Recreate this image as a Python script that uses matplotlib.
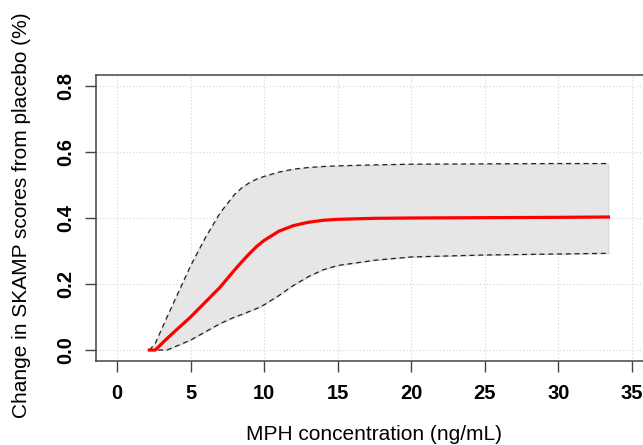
import matplotlib
matplotlib.use("Agg")
import matplotlib.pyplot as plt

# concentration grid (ng/mL) and values
conc = [2.2, 2.6, 3.4, 5, 6, 7, 8, 8.5, 9, 9.5, 10, 11, 12, 13, 14, 15, 17.5, 20, 25, 30, 33.4]
mean_effect = [0.0, 0.0, 0.035, 0.10, 0.145, 0.19, 0.243, 0.268, 0.292, 0.314, 0.332, 0.36, 0.377,
               0.387, 0.393, 0.396, 0.399, 0.400, 0.401, 0.402, 0.403]
upper_ci = [0.0, 0.02, 0.10, 0.255, 0.34, 0.415, 0.472, 0.492, 0.507, 0.518, 0.526, 0.539, 0.548,
            0.553, 0.556, 0.558, 0.561, 0.563, 0.564, 0.565, 0.565]
lower_ci = [0.0, 0.0, 0.0, 0.03, 0.055, 0.08, 0.10, 0.108, 0.117, 0.126, 0.137, 0.165, 0.196,
            0.222, 0.243, 0.256, 0.272, 0.282, 0.288, 0.291, 0.293]

x_ticks = [0, 5, 10, 15, 20, 25, 30, 35]
y_ticks = [0.0, 0.2, 0.4, 0.6, 0.8]

plt.rcParams['font.family'] = ['Liberation Sans', 'DejaVu Sans']

W, H = 643, 445
fig = plt.figure(figsize=(W / 100, H / 100), dpi=100)
# R-style plot region; right edge runs past the figure like in the reference
left, right, top, bottom = 96.4, 652.5, 75.4, 360.6
ax = fig.add_axes([left / W, (H - bottom) / H, (right - left) / W, (bottom - top) / H])

ax.set_xlim(-1.4, 36.4)
ax.set_ylim(-0.032, 0.832)

ax.fill_between(conc, lower_ci, upper_ci, color='#e6e6e6', edgecolor='#cccccc', lw=0.6, zorder=1)
for x in x_ticks:
    ax.axvline(x, color='#d3d3d3', lw=0.8, ls=(0, (1, 2)), zorder=0.5)
for y in y_ticks:
    ax.axhline(y, color='#d3d3d3', lw=0.8, ls=(0, (1, 2)), zorder=0.5)

ax.plot(conc, upper_ci, color='#222222', lw=0.9, ls=(0, (4, 3)), zorder=2)
ax.plot(conc, lower_ci, color='#222222', lw=0.9, ls=(0, (4, 3)), zorder=2)
ax.plot(conc, mean_effect, color='#ff0000', lw=2.3, zorder=3)

ax.set_xticks(x_ticks)
ax.set_yticks(y_ticks)
ax.set_xticklabels([str(v) for v in x_ticks], fontsize=14.5, fontweight='bold')
ax.set_yticklabels(['%.1f' % v for v in y_ticks], fontsize=14.5, fontweight='bold',
                   rotation=90, va='center')
ax.tick_params(direction='out', length=8, width=1, color='#444444', pad=9)
ax.tick_params(axis='y', pad=7)

for s in ax.spines.values():
    s.set_color('#444444')
    s.set_linewidth(1.1)

fig.text(374 / W, 1 - 434 / H, 'MPH concentration (ng/mL)', ha='center', va='center', fontsize=15)
fig.text(22 / W, 1 - 215 / H, 'Change in SKAMP scores from placebo (%)', ha='center', va='center',
         rotation=90, fontsize=15)

fig.savefig('out.png', dpi=100)
